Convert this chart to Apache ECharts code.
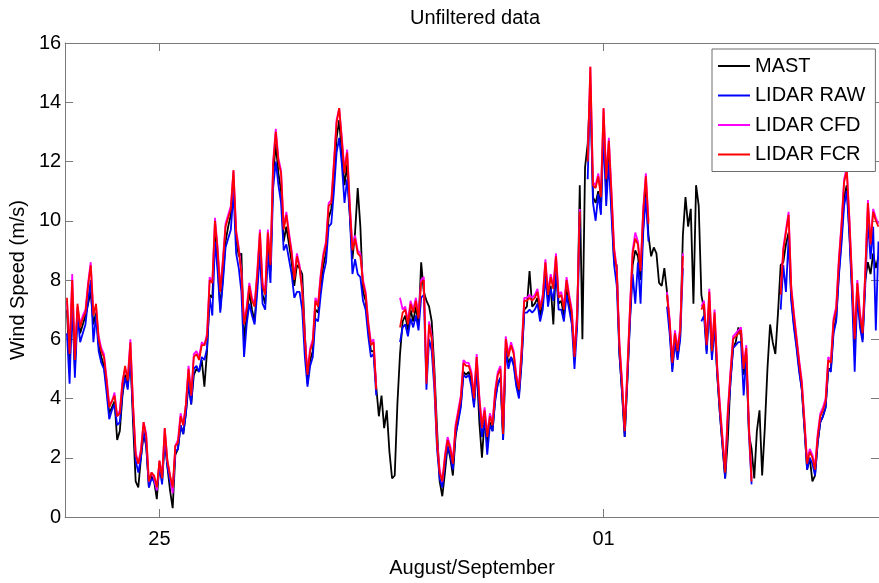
<!DOCTYPE html>
<html>
<head>
<meta charset="utf-8">
<script src="https://cdn.jsdelivr.net/npm/echarts@6/dist/echarts.min.js"></script>
<style>html,body{margin:0;padding:0;background:#fff}#c{width:879px;height:583px}</style>
</head>
<body>
<div id="c"></div>
<script>
// hourly samples, hours counted from 25 August 00:00; first sample at -35 h
const startHour = -35;
const tickHours = [0, 168];
const tickLabels = ['25', '01'];
const seriesNames = ['MAST', 'LIDAR RAW', 'LIDAR CFD', 'LIDAR FCR'];

const mast = [
7.0,5.0,7.2,5.0,7.0,6.2,6.5,6.8,7.2,7.6,
6.5,6.9,5.8,5.4,5.1,4.4,3.5,3.7,3.9,2.6,
2.9,4.1,4.8,4.4,5.5,3.2,1.2,1.0,2.0,2.8,
2.4,1.0,1.4,1.2,0.6,1.8,1.2,2.6,1.7,0.9,
0.3,2.1,2.3,3.1,2.8,3.5,4.5,3.8,4.8,5.0,
4.9,5.3,4.4,5.6,7.5,7.4,9.5,8.6,7.0,8.1,
9.3,9.8,10.2,11.4,9.4,8.8,8.9,5.9,6.8,7.6,
7.0,6.6,7.9,9.2,7.5,7.2,9.2,8.3,11.5,12.6,
11.6,11.0,9.3,9.8,9.2,8.6,7.8,8.5,8.4,8.2,
6.2,4.5,5.3,5.6,7.0,6.9,7.8,8.5,8.9,10.1,
10.4,11.5,12.8,13.4,12.2,11.2,11.9,10.2,8.7,9.6,
11.1,9.8,7.6,7.3,6.3,5.6,5.6,4.4,3.4,4.1,
3.0,3.6,2.2,1.3,1.4,3.8,5.5,6.6,6.8,6.3,
7.0,6.6,7.1,6.5,8.6,7.6,7.3,7.1,6.6,5.0,
3.0,1.2,0.7,1.5,2.4,2.0,1.4,2.7,3.3,3.8,
4.9,4.8,4.9,4.6,3.8,5.1,3.2,2.0,3.3,2.5,
3.2,2.9,4.0,4.5,4.7,2.6,5.7,5.2,5.4,5.2,
4.5,4.1,5.3,7.0,7.1,8.3,7.1,7.2,7.4,6.8,
7.2,8.3,7.3,7.8,6.5,8.5,7.2,7.3,6.8,7.7,
7.2,6.6,5.6,6.5,11.2,6.0,11.8,12.6,14.5,10.8,
10.6,11.0,10.4,13.2,10.9,12.2,10.5,8.6,8.5,5.5,
4.2,2.7,4.6,6.7,8.5,9.0,8.8,8.0,9.8,11.0,
9.5,8.8,9.1,8.9,7.9,7.8,8.4,7.6,6.4,5.0,
6.0,5.4,6.1,9.5,10.8,9.8,10.4,7.2,11.2,10.5,
7.5,7.0,5.6,7.3,5.4,6.6,4.8,3.5,2.4,1.3,
2.6,4.6,5.7,5.9,6.4,6.1,4.8,5.5,2.8,2.3,
1.3,2.9,3.6,1.4,3.0,5.0,6.5,5.9,5.5,6.9,
8.5,8.6,9.2,9.6,7.4,6.5,5.8,5.0,4.3,3.0,
1.6,2.0,1.2,1.4,2.5,3.2,3.4,3.7,5.0,5.0,
6.3,6.7,8.2,9.4,10.8,11.2,9.6,7.7,5.8,7.5,
6.6,6.0,8.0,8.6,8.2,8.9,8.4,8.8
];

const lidarRaw = [
6.2,4.5,7.4,4.7,6.8,5.9,6.2,6.5,7.3,8.0,
5.9,6.8,5.6,5.2,5.0,4.2,3.3,3.6,3.8,3.1,
3.2,4.2,4.7,4.3,5.4,3.5,1.9,1.5,2.0,2.9,
2.4,1.0,1.3,1.2,0.9,1.7,1.1,2.7,1.7,1.2,
0.9,2.2,2.3,3.1,2.8,3.5,4.6,3.8,5.0,5.1,
4.9,5.4,5.3,5.7,7.4,6.8,9.3,8.3,6.9,7.9,
9.1,9.4,9.7,11.0,8.9,8.4,7.6,5.4,6.5,7.2,
6.8,6.5,7.6,8.9,7.2,7.0,8.9,7.9,11.1,12.0,
11.2,10.6,9.0,9.2,8.7,8.2,7.4,7.6,7.6,7.0,
5.4,4.4,5.1,5.4,6.7,6.6,7.5,8.2,8.6,9.8,
9.9,11.0,12.3,12.8,11.9,10.6,11.4,10.2,8.2,8.7,
8.2,8.1,7.3,7.0,6.1,5.4,5.5,4.1,null,null,
null,null,null,null,null,null,5.9,6.4,6.5,6.1,
6.7,6.4,6.8,6.3,7.4,7.5,4.3,6.0,5.6,4.3,
2.3,1.3,1.0,1.8,2.4,2.1,1.6,2.8,3.2,3.7,
4.8,4.7,4.8,4.4,3.7,5.0,3.7,2.7,3.3,2.1,
3.1,2.9,3.9,4.5,4.7,2.6,5.6,5.0,5.4,5.1,
4.4,4.0,5.2,6.9,6.9,7.0,6.9,7.0,7.2,6.6,
7.0,8.1,7.1,7.7,7.3,8.3,7.0,7.0,6.6,7.5,
7.0,6.5,5.0,6.4,9.8,null,null,11.4,14.6,10.6,
10.0,10.9,10.2,13.0,10.5,12.0,10.2,8.5,7.8,5.5,
4.2,2.7,4.6,6.6,8.2,7.2,8.6,7.2,9.6,10.8,
9.3,null,null,null,null,null,null,7.1,6.2,4.9,
5.9,5.3,6.0,8.4,null,null,null,null,null,null,
6.6,6.8,5.5,7.2,5.3,6.5,4.8,3.5,2.4,1.3,
3.3,4.5,5.7,5.8,5.9,5.9,4.1,5.4,2.8,1.1,
null,null,null,null,null,null,null,null,null,null,
7.0,8.5,7.6,9.4,7.3,6.4,5.7,4.9,4.3,3.0,
1.6,2.0,1.8,1.4,2.5,3.2,3.4,3.7,5.0,4.9,
6.2,6.6,8.1,9.2,10.5,11.0,9.5,7.5,4.9,7.5,
6.4,5.9,7.8,10.0,8.7,9.8,6.3,9.3
];

const lidarCfd = [
7.3,5.6,8.2,5.4,7.1,6.5,6.8,7.0,7.9,8.6,
6.9,7.1,6.1,5.7,5.5,4.7,3.8,3.9,4.2,3.4,
3.6,4.6,5.0,4.7,6.0,3.8,2.2,1.8,2.3,3.2,
2.8,1.2,1.5,1.3,0.9,1.9,1.4,3.0,1.9,1.4,
0.8,2.4,2.6,3.5,3.1,3.8,5.1,4.1,5.5,5.6,
5.4,5.9,5.8,6.2,8.1,7.9,10.1,9.1,7.7,8.7,
9.9,10.2,10.5,11.7,9.7,9.1,8.3,6.6,7.1,7.9,
7.4,7.2,8.3,9.7,7.9,7.6,9.7,8.6,12.0,13.1,
12.1,11.7,9.8,10.3,9.6,9.0,8.1,8.9,8.5,7.7,
6.1,4.9,5.7,6.0,7.4,7.2,8.2,8.9,9.3,10.6,
10.7,12.0,13.4,13.8,12.8,11.7,12.4,10.6,9.1,9.5,
9.0,8.9,8.0,7.6,6.6,5.9,6.0,4.4,null,null,
null,null,null,null,null,null,7.4,7.0,7.1,6.6,
7.3,7.0,7.4,6.8,8.0,8.1,4.6,6.6,6.1,4.7,
2.6,1.6,1.2,2.1,2.7,2.4,1.9,3.1,3.6,4.1,
5.3,5.2,5.2,4.9,4.1,5.5,4.1,3.1,3.7,2.8,
3.5,3.2,4.3,4.9,5.1,2.9,6.1,5.5,5.9,5.6,
4.8,4.4,5.7,7.4,7.4,7.5,7.4,7.5,7.7,7.1,
7.5,8.7,7.6,8.2,7.8,8.9,7.5,7.6,7.1,8.1,
7.5,7.0,5.5,6.9,10.4,null,null,12.1,15.2,11.3,
11.2,11.6,10.9,13.8,11.5,12.8,11.0,9.1,8.4,5.9,
4.6,3.0,5.0,7.1,9.0,9.6,9.3,8.4,10.4,11.6,
10.0,null,null,null,null,null,null,7.6,6.7,5.3,
6.3,5.7,6.4,8.9,null,null,null,null,null,null,
7.1,7.3,5.9,7.7,5.7,7.0,5.1,3.8,2.7,1.6,
3.6,4.9,6.1,6.2,6.3,6.4,5.1,5.8,3.1,1.3,
null,null,null,null,null,null,null,null,null,null,
7.6,9.1,9.7,10.3,7.8,6.9,6.1,5.3,4.6,3.3,
1.9,2.3,2.1,1.7,2.8,3.5,3.7,4.0,5.4,5.3,
6.7,7.1,8.7,9.9,11.4,11.8,10.1,8.1,6.1,8.0,
6.9,6.3,8.3,10.7,9.3,10.4,10.1,9.9
];

const lidarFcr = [
7.4,5.5,8.0,5.3,7.2,6.4,6.7,6.9,7.8,8.5,
6.8,7.2,6.0,5.6,5.4,4.6,3.7,3.9,4.1,3.4,
3.5,4.5,5.1,4.6,5.9,3.8,2.1,1.8,2.2,3.2,
2.7,1.2,1.5,1.4,1.0,1.9,1.3,3.0,1.9,1.4,
1.0,2.4,2.5,3.4,3.1,3.8,5.0,4.1,5.4,5.5,
5.3,5.8,5.8,6.1,8.0,7.9,10.0,9.0,7.6,8.6,
9.8,10.1,10.4,11.7,9.6,9.0,8.2,6.5,7.0,7.8,
7.3,7.1,8.2,9.6,7.8,7.5,9.6,8.5,11.9,13.0,
12.0,11.6,9.7,10.2,9.5,8.9,8.0,8.8,8.4,7.6,
6.0,4.8,5.6,5.9,7.3,7.1,8.1,8.8,9.2,10.5,
10.6,11.9,13.3,13.8,12.7,11.6,12.3,10.5,9.0,9.4,
8.9,8.8,7.9,7.5,6.5,5.8,5.9,4.3,null,null,
null,null,null,null,null,null,6.4,6.9,7.0,6.5,
7.2,6.9,7.3,6.7,7.9,8.0,4.5,6.5,6.0,4.6,
2.5,1.5,1.2,2.0,2.6,2.3,1.8,3.0,3.5,4.0,
5.2,5.1,5.1,4.8,4.0,5.4,4.0,3.0,3.6,2.7,
3.4,3.1,4.2,4.8,5.0,2.8,6.0,5.4,5.8,5.5,
4.7,4.3,5.6,7.3,7.3,7.4,7.3,7.4,7.6,7.0,
7.4,8.6,7.5,8.1,7.7,8.8,7.4,7.5,7.0,8.0,
7.4,6.9,5.4,6.8,10.3,null,null,12.0,15.2,11.2,
11.1,11.5,10.8,13.8,11.4,12.7,10.9,9.0,8.3,5.8,
4.5,2.9,4.9,7.0,8.9,9.4,9.2,8.3,10.3,11.5,
9.9,null,null,null,null,null,null,7.5,6.6,5.2,
6.2,5.6,6.3,8.8,null,null,null,null,null,null,
7.0,7.2,5.8,7.6,5.6,6.9,5.0,3.7,2.6,1.5,
3.5,4.8,6.0,6.1,6.2,6.3,5.0,5.7,3.0,1.2,
null,null,null,null,null,null,null,null,null,null,
7.5,9.0,9.6,10.2,7.7,6.8,6.0,5.2,4.5,3.2,
1.8,2.2,2.0,1.6,2.7,3.4,3.6,3.9,5.3,5.2,
6.6,7.0,8.6,9.8,11.3,11.7,10.0,8.0,6.0,7.9,
6.8,6.2,8.2,10.6,9.2,10.3,10.0,9.8
];

const colors = ['#000000', '#0000ff', '#ff00ff', '#ff0000'];
const FONT = '"Liberation Sans", Arial, Helvetica, sans-serif';

function pairs(arr) { return arr.map((v, i) => [startHour + i, v]); }

const chart = echarts.init(document.getElementById('c'), null, { renderer: 'canvas' });
const xMin = -35.68, xMax = 272.2;
const axisGray = '#7a7a7a';

const option = {
  animation: false,
  backgroundColor: '#ffffff',
  textStyle: { fontFamily: FONT },
  title: {
    text: 'Unfiltered data',
    left: 470, top: 3, textAlign: 'center',
    textStyle: { fontSize: 20, fontWeight: 'normal', color: '#000', fontFamily: FONT }
  },
  legend: {
    orient: 'vertical',
    left: 712, top: 49,
    padding: [6, 10, 6, 6],
    itemGap: 7.5,
    icon: 'rect',
    itemWidth: 32, itemHeight: 2,
    backgroundColor: '#ffffff',
    borderColor: '#6e6e6e', borderWidth: 1, borderRadius: 0,
    textStyle: { fontSize: 20, lineHeight: 22, color: '#000', fontFamily: FONT },
    data: seriesNames
  },
  grid: { left: 60, top: 43, width: 820, height: 483, containLabel: false },
  xAxis: [{
    type: 'value', min: xMin, max: xMax,
    name: 'August/September', nameLocation: 'middle', nameGap: 41,
    nameTextStyle: { fontSize: 20, color: '#000', fontFamily: FONT },
    axisLine: { show: true, onZero: false, lineStyle: { color: axisGray, width: 1 } },
    axisTick: { show: true, inside: true, length: 8, customValues: tickHours, lineStyle: { color: axisGray } },
    axisLabel: { show: true, customValues: tickHours, fontSize: 20, color: '#000', margin: 12, fontFamily: FONT,
      formatter: v => tickLabels[tickHours.indexOf(Math.round(v))] || '' },
    splitLine: { show: false }
  }, {
    type: 'value', min: xMin, max: xMax, position: 'top',
    axisLine: { show: true, onZero: false, lineStyle: { color: axisGray, width: 1 } },
    axisTick: { show: true, inside: true, length: 8, customValues: tickHours, lineStyle: { color: axisGray } },
    axisLabel: { show: false }, splitLine: { show: false }
  }],
  yAxis: [{
    type: 'value', min: 0, max: 16, interval: 2,
    name: 'Wind Speed (m/s)', nameLocation: 'middle', nameGap: 36,
    nameTextStyle: { fontSize: 20, color: '#000', fontFamily: FONT },
    axisLine: { show: true, onZero: false, lineStyle: { color: axisGray, width: 1 } },
    axisTick: { show: true, inside: true, length: 8, lineStyle: { color: axisGray } },
    axisLabel: { fontSize: 20, color: '#000', margin: 4, fontFamily: FONT },
    splitLine: { show: false }
  }, {
    type: 'value', min: 0, max: 16, interval: 2, position: 'right',
    axisLine: { show: true, onZero: false, lineStyle: { color: axisGray, width: 1 } },
    axisTick: { show: true, inside: true, length: 8, lineStyle: { color: axisGray } },
    axisLabel: { show: false }, splitLine: { show: false }
  }],
  series: [mast, lidarRaw, lidarCfd, lidarFcr].map((arr, i) => ({
    name: seriesNames[i],
    type: 'line',
    xAxisIndex: 0, yAxisIndex: 0,
    data: pairs(arr),
    symbol: 'none', showSymbol: false,
    connectNulls: false,
    color: colors[i],
    lineStyle: { color: colors[i], width: 1.8 },
    itemStyle: { color: colors[i] }
  }))
};
chart.setOption(option);
</script>
</body>
</html>
